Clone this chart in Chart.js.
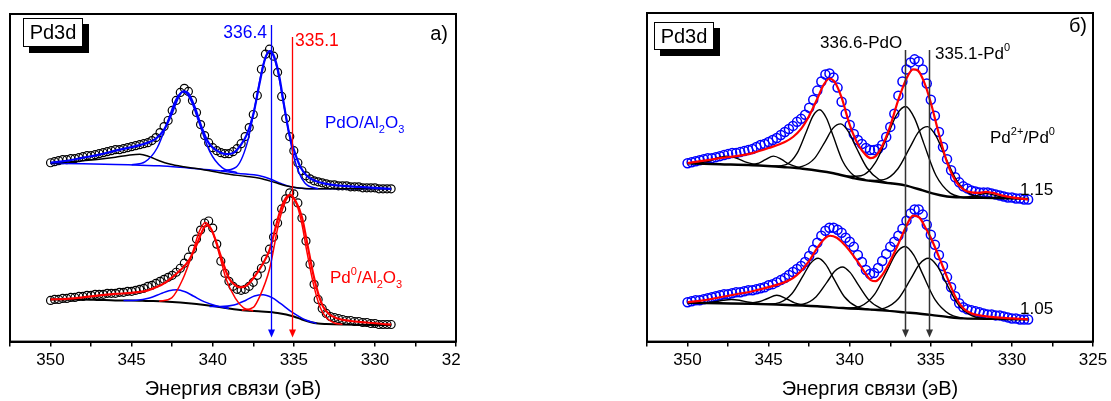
<!DOCTYPE html>
<html><head><meta charset="utf-8">
<script src="https://cdn.jsdelivr.net/npm/chart.js@4.4.1/dist/chart.umd.min.js"></script>
<style>
html,body{margin:0;padding:0;background:#fff;width:1111px;height:401px;overflow:hidden}
#wrapL{position:absolute;left:0;top:0;width:461px;height:401px;overflow:hidden}
#wrapR{position:absolute;left:637px;top:0;width:474px;height:401px}
canvas{display:block}
</style></head><body>
<div id="wrapL"><canvas id="cL" width="480" height="401"></canvas></div>
<div id="wrapR"><canvas id="cR" width="474" height="401"></canvas></div>
<script>
// ---------- energy grid of the measured points (eV) ----------
const E0 = 350, DE = 0.25;           // 350 ... 329 eV, 85 points
const xTicks = [350, 345, 340, 335, 330, 325];
const xTitle = 'Энергия связи (эВ)';

// ---------- panel a) : measured points ----------
const ltData = [178,179,180,181,181,182,182,183,184,185,
 185,186,187,188,189,190,191,191,192,193,
 194,195,196,197,198,200,203,208,214,220,
 230,240,248,252,249,240,228,216,205,198,
 193,190,188,187,187,189,192,197,204,213,
 226,245,271,286,291,284,268,244,222,204,
 190,178,170,165,162,160,159,158,157,156,
 156,155,155,155,154,154,154,153,153,153,
 153,152,152,152,152];
const lbData = [41,42,42,43,43,44,44,45,45,46,
 46,47,47,47,48,48,48,49,49,50,
 50,51,52,53,55,56,58,60,62,64,
 66,69,73,78,84,92,102,111,118,120,
 113,97,80,68,60,55,52,51,52,55,
 59,66,73,82,92,104,118,132,142,148,
 147,138,123,100,77,57,42,33,28,25,
 24,23,22,21,21,20,20,19,19,18,
 18,17,17,17,17];
// panel a) upper spectrum (PdO/Al2O3) curves [eV, intensity]
const ltFit = [[350,178],[349,180],[348,183],[347,186],[346,190],[345,193.5],[344.5,195.5],[344,198],[343.5,202],[343,211],[342.5,228],[342.1,244],[341.8,249],[341.5,247],[341.1,233],[340.7,214],[340.3,199],[340,193],[339.5,188],[339.1,186.5],[338.7,188],[338.3,195],[337.9,206],[337.5,226],[337.1,258],[336.8,280],[336.5,289],[336.2,283],[335.9,264],[335.6,235],[335.3,208],[335,191],[334.6,174],[334.2,165],[333.7,160],[333,157],[332,155],[331,154],[330,153],[329,152]];
const ltBg = [[350,177.3],[348,177],[346,176.3],[344.5,175.5],[343.3,175],[342,173.5],[341,172],[339.6,170],[338.5,167.5],[337.1,165],[336.5,162],[335.8,157.5],[335.2,154],[334.5,152.5],[334,152],[329,152]];
const ltSat = [[350,177.5],[349,178.5],[348,180],[347,181.5],[346,183.5],[345.2,185.5],[344.5,186.5],[343.9,184],[343.3,180],[342.66,176.7],[341.8,174],[340.8,171.7],[339.2,167],[338,164.5],[337.1,162.5],[336.2,158.5],[335.5,155],[334.8,153],[334,152],[329,152]];
const ltC1 = [[345,176],[344.18,178.9],[343.42,192.9],[342.75,220.3],[342.28,240.5],[341.8,248.8],[341.33,239.5],[340.85,218.2],[340.18,189.1],[339.42,173.1],[338.5,168]];
const ltC2 = [[339.5,170],[338.58,173.4],[337.9,196.3],[337.3,242.1],[336.88,276.1],[336.45,289.3],[336.03,271.9],[335.6,234.3],[335.0,183.7],[334.32,157.8],[333.5,152.2]];
// panel a) lower spectrum (Pd0/Al2O3)
const lbFit = [[350,42],[349,42.5],[348,44],[347,46],[346,47.5],[345,48.5],[344,51],[343.5,54],[343,58],[342.5,64],[342,71],[341.5,80],[341,96],[340.7,108],[340.4,116],[340.1,112],[339.8,100],[339.5,85],[339,63],[338.6,56],[338.3,54],[337.9,56],[337.5,63],[337,75],[336.5,91],[335.9,127],[335.6,140],[335.25,146],[334.9,140],[334.5,124],[334.2,100],[333.8,67],[333.5,48],[333.2,35],[332.8,27],[332.3,23],[331.5,20.5],[330.5,19],[329.5,17.5],[329,17]];
const lbBg = [[350,42],[349,42],[348,42],[347,41.5],[346,41],[345,41],[344,40.5],[343,40],[342,39],[341,37.5],[340,35.5],[339,33],[338,31],[337,30],[336,28.5],[335,25],[334.5,22],[334,19.5],[333.5,18],[333,17.5],[332,17],[329,16.5]];
const lbRed1 = [[343.3,40.2],[342.53,43.5],[341.85,62],[341.25,88],[340.83,109.5],[340.45,118.5],[339.98,107.8],[339.55,84.2],[339.17,62],[338.6,43],[338.1,33.5],[337.5,30.5]];
const lbRed2 = [[338.2,31.3],[337.5,34],[337.1,45],[336.5,72],[335.9,120],[335.5,140],[335.2,146],[334.85,138],[334.5,117],[334.2,90],[333.8,58],[333.4,35],[333,24],[332.5,18.5],[332,17.2]];
const lbBlue1 = [[345.5,41],[344.7,41.2],[343.9,43.4],[343.2,47.7],[342.7,50.7],[342.2,51.7],[341.7,49.6],[341.2,45.4],[340.5,39.5],[339.7,35.3],[339,33]];
const lbBlue2 = [[340.2,35],[339.53,34.9],[338.69,36.4],[337.95,41.2],[337.43,45.3],[336.9,46.7],[336.37,44],[335.85,38.3],[335.11,29.3],[334.27,21.5],[333.6,18.1]];
const leftMarkers = [336.4, 335.1];

// ---------- panel б) ----------
const rtData = [177,178,179,180,181,182,182,183,184,185,
 186,187,187,188,189,190,191,193,195,196,
 198,200,202,205,208,211,214,218,221,225,
 232,240,249,258,265,266,262,252,238,226,
 215,206,200,196,192,190,190,191,195,203,
 213,226,244,258,270,277,280,278,270,256,
 240,224,208,193,181,170,163,158,154,152,
 150,149,148,148,148,147,146,145,144,143,
 143,142,142,141,141];
const rbData = [39,40,41,41,42,43,44,45,46,47,
 47,48,49,49,50,51,51,52,53,54,
 56,57,59,61,63,66,69,72,75,79,
 85,91,98,105,110,113,113,111,108,103,
 99,94,86,79,71,67,68,73,80,87,
 94,99,105,112,120,127,131,131,126,116,
 106,96,86,75,64,54,45,38,34,32,
 31,30,29,28,27,27,26,26,25,24,
 23,23,22,22,22];
const rtFit = [[350,177],[349,179.5],[348,182],[347,184],[346,187],[345,192],[344,198],[343.5,203],[343,211],[342.5,224],[342,241],[341.6,255],[341.25,261],[340.9,257],[340.5,242],[340,215],[339.5,196],[339,185],[338.7,182],[338.4,184],[338,194],[337.5,214],[337,240],[336.5,261],[336.1,270],[335.8,269],[335.4,257],[335,237],[334.5,206],[334,178],[333.5,160],[333,151],[332.5,148],[332,147.5],[331.6,148.5],[331.2,147.5],[330.5,144.5],[330,143],[329,141]];
const rtBg = [[350,177],[348,176],[346,175],[344,173],[342.9,171.5],[341,167],[339.7,162],[338,158],[336.6,155],[335.5,150],[334.9,147],[334,144],[333,143],[331,142.5],[329,141.5]];
const rtC1 = [[344.8,174],[343.93,175.6],[343.26,186.4],[342.68,208],[342.27,223.8],[341.85,230],[341.44,221.8],[341.02,204],[340.44,179.2],[339.77,165],[339,160.5]];
const rtC2 = [[343.6,172.6],[342.93,173.8],[342.17,181.8],[341.5,199],[341.03,211.8],[340.55,216],[340.08,208.2],[339.6,192.6],[338.93,172.2],[338.17,160.6],[337.4,156.7]];
const rtC3 = [[340.2,164],[339.3,164.6],[338.42,177.5],[337.65,204.9],[337.1,225.3],[336.55,233.3],[336,221.5],[335.45,197.4],[334.68,164.8],[333.8,147.3],[333,143]];
const rtC4 = [[338.8,159.8],[337.9,160.7],[337.04,171.2],[336.28,192.9],[335.74,208.3],[335.2,213.3],[334.66,203.4],[334.12,183.7],[333.36,158.7],[332.5,145.8],[331.6,142.7]];
const rtS1 = [[349.6,176.6],[348.8,178.5],[348.2,182],[347.6,184],[347,182],[346.4,178],[345.6,174.8]];
const rtS2 = [[346.4,175],[345.6,177],[345.2,180.5],[344.7,184],[344.2,180.8],[343.8,176.5],[343,172]];
const rtS3 = [[333,143],[332.3,144.5],[331.6,147],[330.9,144.5],[330.2,142]];
const rbFit = [[350,39],[349,41],[348,44],[347,47],[346,50],[345,54],[344,59],[343.5,63],[343,70],[342.5,80],[342,93],[341.5,103],[341.2,105],[340.8,103],[340.5,99],[340,90],[339.5,79],[339,67],[338.7,61],[338.4,60],[338,66],[337.5,80],[337,97],[336.5,115],[336.1,125],[335.7,123],[335.3,112],[335,103],[334.5,84],[334,64],[333.5,45],[333,33],[332.5,28],[332,26],[331,24],[330,23],[329,22]];
const rbBg = [[350,38.5],[348,38],[346,37.5],[344.5,36.7],[342,35],[340.4,33.3],[338,31],[336.6,29],[335,26.5],[334,24.5],[333,23],[331,22.5],[329,22]];
const rbC1 = [[345.2,37],[344.33,38.7],[343.57,47.4],[342.9,64.6],[342.43,77.4],[341.95,82.7],[341.48,76.6],[341,63],[340.33,44.5],[339.57,34.6],[338.8,32]];
const rbC2 = [[343.6,36.2],[342.83,37.4],[342.07,44.6],[341.4,59],[340.93,69.7],[340.45,74],[339.98,68.7],[339.5,57],[338.83,41.4],[338.07,32.9],[337.3,30]];
const rbC3 = [[340.2,33],[339.35,34.9],[338.47,46.8],[337.7,70.2],[337.15,87.4],[336.6,94.3],[336.05,85.7],[335.5,66.9],[334.73,41.4],[333.85,27.2],[333,23]];
const rbC4 = [[338.7,31.6],[337.85,33.3],[336.99,42.8],[336.23,62.4],[335.69,77],[335.15,82.7],[334.61,75.1],[334.07,58.6],[333.31,36.7],[332.45,25.4],[331.6,22.6]];
const rbS1 = [[349.2,38.3],[348.3,39.5],[347.8,41],[347.3,41.8],[346.8,41],[346.2,39],[345.4,37.3]];
const rbS2 = [[346.5,37.6],[345.6,39.5],[345.1,42.5],[344.5,46],[343.9,42.5],[343.4,38.5],[342.6,35.4]];
const rightMarkers = [336.6, 335.1];

// ---------- helpers ----------
const FONT = '"Liberation Sans", Arial, Helvetica, sans-serif';
const BLUE = '#0000ff', RED = '#ff0000', BLACK = '#000000';
const onGrid = vals => vals.map((v, i) => ({x: E0 - i * DE, y: v}));
const pairs = arr => arr.map(p => ({x: p[0], y: p[1]}));
function curve(arr, color, w, order) {
  return {data: pairs(arr), borderColor: color, borderWidth: w, pointRadius: 0, fill: false,
          cubicInterpolationMode: 'monotone', order: order};
}
function dots(vals, color, r, bw) {
  return {data: onGrid(vals), showLine: false, pointStyle: 'circle', pointRadius: r,
          pointBorderColor: color, pointBackgroundColor: 'rgba(0,0,0,0)', pointBorderWidth: bw,
          borderColor: color, order: 20};
}
function scales() {
  return {
    x: {type: 'linear', reverse: true, min: 325, max: 352.5,
        border: {display: true, color: '#000', width: 2},
        grid: {display: true, drawOnChartArea: false, drawTicks: true, tickLength: 5, color: '#000', lineWidth: 1.5},
        afterBuildTicks: s => { const t = []; for (let v = 325; v <= 352.5; v += 2.5) t.push({value: v}); s.ticks = t; },
        ticks: {autoSkip: false, maxRotation: 0, padding: 4, color: '#000', font: {family: FONT, size: 17},
                callback: v => (xTicks.includes(v) ? String(v) : '')},
        title: {display: true, text: xTitle, color: '#000', font: {family: FONT, size: 20}, padding: {top: 2, bottom: 0}}},
    y: {display: false, min: 0, max: 326}
  };
}
function rich(ctx, x, y, parts, size, color, align) {
  const small = Math.round(size * 0.62);
  let w = 0;
  parts.forEach(p => { ctx.font = (p.s ? small : size) + 'px ' + FONT; w += ctx.measureText(p.t).width; });
  let cx = align === 'right' ? x - w : x;
  ctx.fillStyle = color; ctx.textAlign = 'left'; ctx.textBaseline = 'alphabetic';
  parts.forEach(p => {
    ctx.font = (p.s ? small : size) + 'px ' + FONT;
    const dy = p.s === 'sub' ? size * 0.28 : (p.s === 'sup' ? -size * 0.45 : 0);
    ctx.fillText(p.t, cx, y + dy);
    cx += ctx.measureText(p.t).width;
  });
}
function pdBox(ctx, x1, y1, x2, y2) {
  ctx.fillStyle = '#000'; ctx.fillRect(x1 + 6, y1 + 6, x2 - x1, y2 - y1);
  ctx.fillStyle = '#fff'; ctx.fillRect(x1, y1, x2 - x1, y2 - y1);
  ctx.strokeStyle = '#000'; ctx.lineWidth = 1; ctx.strokeRect(x1 + 0.5, y1 + 0.5, x2 - x1 - 1, y2 - y1 - 1);
  ctx.fillStyle = '#000'; ctx.font = '20px ' + FONT; ctx.textAlign = 'center'; ctx.textBaseline = 'middle';
  ctx.fillText('Pd3d', (x1 + x2) / 2, (y1 + y2) / 2 + 1);
}
function marker(chart, E, yTop, color, w) {
  const ctx = chart.ctx, x = Math.round(chart.scales.x.getPixelForValue(E)) + 0.5;
  const yb = chart.chartArea.bottom - 4;
  ctx.strokeStyle = color; ctx.lineWidth = w;
  ctx.beginPath(); ctx.moveTo(x, yTop); ctx.lineTo(x, yb - 6); ctx.stroke();
  ctx.fillStyle = color; ctx.beginPath();
  ctx.moveTo(x - 3.5, yb - 8); ctx.lineTo(x + 3.5, yb - 8); ctx.lineTo(x, yb); ctx.closePath(); ctx.fill();
}
function frame(chart) {
  const a = chart.chartArea, ctx = chart.ctx;
  ctx.save(); ctx.strokeStyle = '#000'; ctx.lineWidth = 2;
  ctx.strokeRect(a.left, a.top, a.right - a.left, a.bottom - a.top); ctx.restore();
}

const common = {responsive: false, animation: false, devicePixelRatio: 1, events: [],
  plugins: {legend: {display: false}, tooltip: {enabled: false}}};

// ---------- left chart ----------
new Chart(document.getElementById('cL'), {
  type: 'line',
  data: {datasets: [
    dots(ltData, BLACK, 4, 1.2),
    dots(lbData, BLACK, 4, 1.2),
    curve(ltBg, BLUE, 1.5, 6), curve(ltSat, BLACK, 1.5, 5),
    curve(ltC1, BLUE, 1.5, 4), curve(ltC2, BLUE, 1.5, 4),
    curve(ltFit, BLUE, 2.2, 1),
    curve(lbBg, BLACK, 2, 5),
    curve(lbBlue1, BLUE, 1.5, 4), curve(lbBlue2, BLUE, 1.5, 4),
    curve(lbRed1, RED, 1.5, 3), curve(lbRed2, RED, 1.5, 3),
    curve(lbFit, RED, 2.2, 1)
  ]},
  options: Object.assign({}, common, {
    layout: {padding: {left: 10, right: 24, top: 14, bottom: 0}},
    scales: scales()
  }),
  plugins: [{id: 'annL', afterDatasetsDraw(chart) {
    const ctx = chart.ctx; ctx.save();
    marker(chart, leftMarkers[0], 25, BLUE, 1.3);
    marker(chart, leftMarkers[1], 37, RED, 1.3);
    frame(chart);
    pdBox(ctx, 23, 18, 83, 47);
    rich(ctx, 448, 40, [{t: 'а)'}], 20, '#000', 'right');
    rich(ctx, 267, 38, [{t: String(leftMarkers[0])}], 17.5, BLUE, 'right');
    rich(ctx, 295, 46, [{t: String(leftMarkers[1])}], 17.5, RED, 'left');
    rich(ctx, 325, 128, [{t: 'PdO/Al'}, {t: '2', s: 'sub'}, {t: 'O'}, {t: '3', s: 'sub'}], 17, BLUE, 'left');
    rich(ctx, 330, 283, [{t: 'Pd'}, {t: '0', s: 'sup'}, {t: '/Al'}, {t: '2', s: 'sub'}, {t: 'O'}, {t: '3', s: 'sub'}], 17, RED, 'left');
    ctx.restore();
  }}]
});

// ---------- right chart ----------
new Chart(document.getElementById('cR'), {
  type: 'line',
  data: {datasets: [
    dots(rtData, BLUE, 4.5, 1.5),
    dots(rbData, BLUE, 4.5, 1.5),
    curve(rtBg, BLACK, 2.4, 6),
    curve(rtC1, BLACK, 1.4, 5), curve(rtC2, BLACK, 1.4, 5), curve(rtC3, BLACK, 1.4, 5), curve(rtC4, BLACK, 1.4, 5),
    curve(rtS1, BLACK, 1.4, 5), curve(rtS2, BLACK, 1.4, 5), curve(rtS3, BLACK, 1.4, 5),
    curve(rtFit, RED, 2.2, 1),
    curve(rbBg, BLACK, 2.4, 6),
    curve(rbC1, BLACK, 1.4, 5), curve(rbC2, BLACK, 1.4, 5), curve(rbC3, BLACK, 1.4, 5), curve(rbC4, BLACK, 1.4, 5),
    curve(rbS1, BLACK, 1.4, 5), curve(rbS2, BLACK, 1.4, 5),
    curve(rbFit, RED, 2.2, 1)
  ]},
  options: Object.assign({}, common, {
    layout: {padding: {left: 10, right: 18, top: 13, bottom: 0}},
    scales: scales()
  }),
  plugins: [{id: 'annR', afterDatasetsDraw(chart) {
    const ctx = chart.ctx; ctx.save();
    marker(chart, rightMarkers[0], 50, '#333', 1.5);
    marker(chart, rightMarkers[1], 50, '#333', 1.5);
    frame(chart);
    pdBox(ctx, 17, 22, 77, 50);
    rich(ctx, 450, 32, [{t: 'б)'}], 20, '#000', 'right');
    rich(ctx, 183, 48, [{t: rightMarkers[0] + '-PdO'}], 17, '#000', 'left');
    rich(ctx, 298, 59, [{t: rightMarkers[1] + '-Pd'}, {t: '0', s: 'sup'}], 17, '#000', 'left');
    rich(ctx, 353, 143, [{t: 'Pd'}, {t: '2+', s: 'sup'}, {t: '/Pd'}, {t: '0', s: 'sup'}], 17, '#000', 'left');
    rich(ctx, 383, 195, [{t: '1.15'}], 17, '#000', 'left');
    rich(ctx, 383, 314, [{t: '1.05'}], 17, '#000', 'left');
    ctx.restore();
  }}]
});
</script>
</body></html>
